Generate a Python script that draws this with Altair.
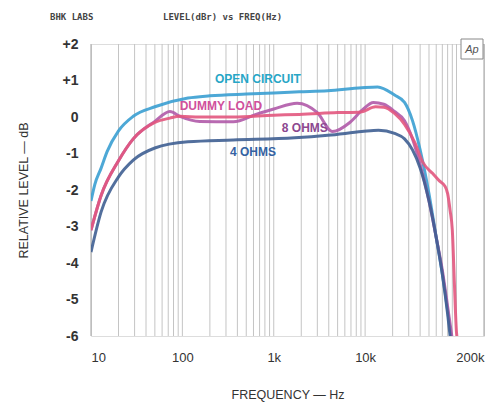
import altair as alt
import pandas as pd

# ---------------- data ----------------
oc_f = [10, 11, 12.9, 15, 20, 29, 50, 115, 200, 500, 1000, 1900, 3900, 9200, 13700, 21000, 27000, 33000, 40000, 50000, 60000, 70000, 80000, 88000]
oc_v = [-2.3, -1.85, -1.4, -0.95, -0.38, 0.02, 0.28, 0.52, 0.58, 0.63, 0.66, 0.69, 0.72, 0.80, 0.82, 0.60, 0.40, -0.10, -0.90, -2.10, -3.30, -4.30, -5.30, -6.10]

dl_f = [10, 12.9, 20, 29, 50, 73, 94, 155, 360, 650, 1000, 1800, 3000, 4400, 6800, 9400, 12300, 16000, 21000, 27000, 33000, 40000, 50000, 60000, 70000, 80000, 90000]
dl_v = [-3.1, -2.15, -1.2, -0.6, -0.12, 0.15, 0.02, -0.12, -0.13, 0.08, 0.22, 0.38, 0.12, -0.40, -0.15, 0.20, 0.40, 0.35, 0.15, -0.10, -0.60, -1.30, -2.30, -3.30, -4.20, -5.20, -6.10]

r8_f = [10, 12.9, 20, 29, 50, 73, 94, 155, 360, 1000, 1900, 5000, 9000, 13000, 16000, 21000, 27000, 35000, 43000, 55000, 65000, 75000, 80000, 85000, 90000, 95000, 100000, 102000]
r8_v = [-3.1, -2.15, -1.2, -0.6, -0.15, -0.03, 0.02, 0.0, 0.0, 0.05, 0.07, 0.12, 0.14, 0.28, 0.27, 0.10, -0.20, -0.70, -1.25, -1.55, -1.75, -1.90, -2.10, -2.55, -3.10, -4.60, -5.90, -6.10]

r4_f = [10, 12.9, 20, 29, 50, 115, 360, 1700, 3900, 9200, 14000, 21000, 27000, 33000, 40000, 50000, 60000, 70000, 80000, 86000]
r4_v = [-3.7, -2.6, -1.64, -1.18, -0.85, -0.68, -0.63, -0.57, -0.50, -0.40, -0.36, -0.45, -0.60, -0.90, -1.40, -2.30, -3.30, -4.30, -5.40, -6.10]

series_names = ["OPEN CIRCUIT", "DUMMY LOAD", "8 OHMS", "4 OHMS"]
line_colors = ["#3a9fd2", "#b05aa8", "#e2567e", "#3f5f92"]
text_colors = ["#28a6c6", "#d0509c", "#8c4890", "#3462a2"]
label_f = [671, 264, 2190, 592]
label_v = [1.04, 0.30, -0.30, -0.96]

x_tick_values = [10, 100, 1000, 10000, 200000]
y_tick_values = [-6, -5, -4, -3, -2, -1, 0, 1, 2]

grid_f = [m * d for d in [10, 100, 1000, 10000] for m in range(1, 10)] + [100000, 200000]

# ---------------- frames ----------------
rows = []
for name, fs, vs in [("OPEN CIRCUIT", oc_f, oc_v), ("DUMMY LOAD", dl_f, dl_v),
                     ("8 OHMS", r8_f, r8_v), ("4 OHMS", r4_f, r4_v)]:
    for i, (f, v) in enumerate(zip(fs, vs)):
        rows.append({"series": name, "f": f, "v": v, "i": i})
curves = pd.DataFrame(rows)

labels = pd.DataFrame({"series": series_names, "f": label_f, "v": label_v})
grid = pd.DataFrame({"f": grid_f, "edge": [f in (10, 200000) for f in grid_f]})

W, H = 393, 292
FONT = "Liberation Sans"

xscale = alt.Scale(type="log", domain=[10, 200000], nice=False)
yscale = alt.Scale(domain=[-6, 2], nice=False)

xaxis = alt.Axis(values=x_tick_values,
                 labelExpr="datum.value >= 1000 ? format(datum.value/1000, 'd') + 'k' : format(datum.value, 'd')",
                 grid=False, ticks=False, domain=False, labelPadding=15, labelFlush=True,
                 labelOverlap=False,
                 labelFontSize=13, labelColor="#333", labelFont=FONT,
                 title="FREQUENCY — Hz", titleFontSize=12.5, titleFontWeight="normal",
                 titleColor="#333", titleFont=FONT, titlePadding=24)
yaxis = alt.Axis(values=y_tick_values, tickCount=9,
                 labelExpr="datum.value > 0 ? '+' + datum.value : (datum.value < 0 ? '-' + abs(datum.value) : '0')",
                 grid=False, ticks=False, domain=False, labelPadding=13, labelOverlap=False,
                 labelFontSize=14, labelFontWeight="bold", labelColor="#333", labelFont=FONT,
                 title="RELATIVE LEVEL — dB", titleFontSize=12.5, titleFontWeight="normal",
                 titleColor="#333", titleFont=FONT, titlePadding=32)

gridlayer = alt.Chart(grid).mark_rule(strokeWidth=1).encode(
    x=alt.X("f:Q", scale=xscale, axis=xaxis),
    y=alt.value(0), y2=alt.value(H),
    color=alt.condition("datum.edge", alt.value("#a0a0a0"), alt.value("#c4c4c4")),
)

lines = alt.Chart(curves).mark_line(strokeWidth=3, interpolate="monotone", clip=True, opacity=0.9).encode(
    x=alt.X("f:Q", scale=xscale, axis=xaxis),
    y=alt.Y("v:Q", scale=yscale, axis=yaxis),
    color=alt.Color("series:N", scale=alt.Scale(domain=series_names, range=line_colors), legend=None),
    order="i:Q",
)

texts = alt.Chart(labels).mark_text(fontSize=12, fontWeight="bold", font=FONT).encode(
    x=alt.X("f:Q", scale=xscale, axis=xaxis),
    y=alt.Y("v:Q", scale=yscale, axis=yaxis),
    text="series:N",
    color=alt.Color("series:N", scale=alt.Scale(domain=series_names, range=text_colors), legend=None),
)

hdr = pd.DataFrame({"t": ["BHK LABS", "LEVEL(dBr) vs FREQ(Hz)"], "px": [-41, 72]})
header = alt.Chart(hdr).mark_text(font="DejaVu Sans Mono", fontSize=9, fontWeight="bold",
                                  color="#444", align="left").encode(
    x=alt.X("px:Q", scale=None), y=alt.value(-27), text="t:N")

apbox = alt.Chart(pd.DataFrame({"a": [1]})).mark_rect(fill="white", stroke="#888", strokeWidth=1).encode(
    x=alt.value(370), x2=alt.value(392), y=alt.value(-5), y2=alt.value(15))
aptext = alt.Chart(pd.DataFrame({"t": ["Ap"]})).mark_text(font=FONT, fontSize=11, fontStyle="italic",
                                                        color="#555").encode(
    x=alt.value(381), y=alt.value(6), text="t:N")

chart = alt.layer(gridlayer, lines, texts, apbox, aptext, header).resolve_scale(color="independent").properties(
    width=W, height=H,
    autosize=alt.AutoSizeParams(type="none"),
    padding={"left": 83, "top": 36, "right": 12, "bottom": 67},
).configure_view(stroke=None).configure(background="white")

chart.save("out.html", embed_options={"renderer": "svg", "actions": False})
